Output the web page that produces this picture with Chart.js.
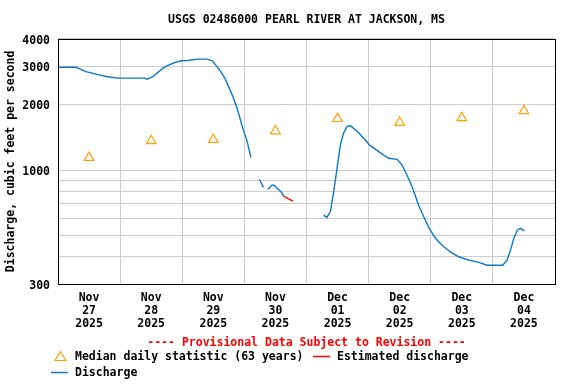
<!DOCTYPE html>
<html>
<head>
<meta charset="utf-8">
<script src="https://cdn.jsdelivr.net/npm/chart.js@4"></script>
<style>
  html, body { margin: 0; padding: 0; background: #fff; }
  #grafico { display: block; }
</style>
</head>
<body>
<canvas id="grafico" width="576" height="384"></canvas>
<script>
// hours since Nov 27 2025 00:00
const dischargeHours = [0, 7, 10.8, 14.7, 18.6, 23.2, 33.6, 34.4, 36.7, 37.5, 40.6, 42.1, 44.5, 47.6, 49.9,
  54.1, 57.6, 59.6, 61.5, 63.4, 64.6, 67.3, 69.2, 71.2, 73.1, 74.5, 75.6, 76.8, 77.3, 77.8, 79.4, 80.2,
  81.0, 82.6, 83.5, 85.2, 86.5, 87.1, 95,
  102.6, 103.9, 105.2, 106.5, 107.8, 109.1, 110.3, 111.6, 112.9, 115.5, 118.1, 120.6, 123.9, 127.7,
  131.0, 132.9, 134.8, 136.8, 139.3, 141.3, 143.2, 145.8, 148.4, 151.6, 154.8, 158.7, 162.5, 165.8,
  171.8, 173.5, 174.8, 176.1, 177.4, 178.7, 180.2];
const dischargeValues = [2960, 2960, 2830, 2754, 2685, 2640, 2640, 2610, 2685, 2734, 2934, 3006, 3093, 3170, 3180,
  3227, 3227, 3170, 2975, 2771, 2620, 2212, 1921, 1582, 1350, 1144, null, 997, null, 907, 833, null,
  815, 851, 851, 815, 787, 760, null,
  621, 606, 643, 795, 1018, 1303, 1475, 1582, 1599, 1511, 1399, 1294, 1214, 1132,
  1120, 1055, 949, 838, 691, 610, 546, 486, 452, 421, 400, 386, 377, 366,
  366, 386, 429, 486, 530, 540, 526];

const estimatedHours = [87.1, 88.9, 90.8];
const estimatedValues = [760, 740, 720];

const medianHours = [12, 36, 60, 84, 108, 132, 156, 180];
const medianValues = [1140, 1360, 1380, 1510, 1720, 1650, 1735, 1870];

const tickMonths = ['Nov', 'Nov', 'Nov', 'Nov', 'Dec', 'Dec', 'Dec', 'Dec'];
const tickDays = ['27', '28', '29', '30', '01', '02', '03', '04'];
const tickYears = ['2025', '2025', '2025', '2025', '2025', '2025', '2025', '2025'];

const yGridValues = [300, 400, 500, 600, 700, 800, 900, 1000, 2000, 3000, 4000];
const yLabelValues = [300, 1000, 2000, 3000, 4000];

const pares = (xs, ys) => xs.map((x, i) => ({x: x, y: ys[i]}));

const FONTE = '"DejaVu Sans Mono", monospace';
Chart.defaults.font.family = FONTE;
Chart.defaults.font.size = 11.5;
Chart.defaults.font.weight = 'bold';
Chart.defaults.color = '#000';

const legenda = {
    id: 'legenda',
    afterDraw(chart) {
        const c = chart.ctx;
        const a = chart.chartArea;
        c.save();
        // box round the plot
        c.strokeStyle = '#000';
        c.lineWidth = 1;
        c.strokeRect(Math.round(a.left) + 0.5, Math.round(a.top) + 0.5,
            Math.round(a.right - a.left), Math.round(a.bottom - a.top));

        c.font = 'bold 11.5px ' + FONTE;
        c.textBaseline = 'middle';
        c.textAlign = 'center';
        c.fillStyle = '#ff0000';
        c.fillText('---- Provisional Data Subject to Revision ----', (a.left + a.right) / 2, 343.5);

        c.textAlign = 'left';
        const ds = chart.data.datasets;
        // triangle
        c.strokeStyle = ds[0].pointBorderColor;
        c.lineWidth = 1.2;
        c.beginPath();
        c.moveTo(60.5, 351.5);
        c.lineTo(66, 360.5);
        c.lineTo(55, 360.5);
        c.closePath();
        c.stroke();
        c.fillStyle = '#000';
        c.fillText(ds[0].label, 75, 357);

        c.strokeStyle = ds[1].borderColor;
        c.lineWidth = 1.5;
        c.beginPath();
        c.moveTo(313, 356.5);
        c.lineTo(330, 356.5);
        c.stroke();
        c.fillText(ds[1].label, 337, 357);

        c.strokeStyle = ds[2].borderColor;
        c.beginPath();
        c.moveTo(51, 372.5);
        c.lineTo(68, 372.5);
        c.stroke();
        c.fillText(ds[2].label, 75, 373);
        c.restore();
    }
};

const ctx = document.getElementById('grafico').getContext('2d');

const grafico = new Chart(ctx, {
    type: 'line',
    data: {
        datasets: [{
            label: 'Median daily statistic (63 years)',
            data: pares(medianHours, medianValues),
            showLine: false,
            pointStyle: 'triangle',
            pointRadius: 5.6,
            pointBorderWidth: 1.2,
            pointBorderColor: '#ffa000',
            pointBackgroundColor: 'rgba(0,0,0,0)'
        }, {
            label: 'Estimated discharge',
            data: pares(estimatedHours, estimatedValues),
            borderColor: '#ff0000',
            borderWidth: 1.4,
            pointRadius: 0,
            tension: 0
        }, {
            label: 'Discharge',
            data: pares(dischargeHours, dischargeValues),
            borderColor: '#0a78cd',
            borderWidth: 1.4,
            pointRadius: 0,
            tension: 0,
            spanGaps: false
        }]
    },
    options: {
        responsive: false,
        animation: false,
        devicePixelRatio: 1,
        layout: {
            padding: {left: 0, right: 21, top: 0, bottom: 44}
        },
        plugins: {
            legend: {display: false},
            tooltip: {enabled: false},
            title: {
                display: true,
                fullSize: false,
                text: 'USGS 02486000 PEARL RIVER AT JACKSON, MS',
                color: '#000',
                font: {size: 11.5, weight: 'bold', lineHeight: 1.2},
                padding: {top: 13, bottom: 12}
            }
        },
        scales: {
            x: {
                type: 'linear',
                min: 0,
                max: 192,
                afterBuildTicks: (s) => {
                    const t = [];
                    for (let h = 0; h <= 192; h += 12) t.push({value: h});
                    s.ticks = t;
                },
                afterFit: (s) => { s.height = 56; },
                border: {display: false},
                grid: {
                    drawTicks: false,
                    color: (c) => (c.tick && c.tick.value % 24 === 0 ? '#cccccc' : 'rgba(0,0,0,0)'),
                    lineWidth: 1
                },
                ticks: {
                    autoSkip: false,
                    maxRotation: 0,
                    padding: 7,
                    font: {lineHeight: 1.16},
                    callback: (v) => {
                        if (v % 24 !== 12) return '';
                        const i = (v - 12) / 24;
                        return [tickMonths[i], tickDays[i], tickYears[i]];
                    }
                }
            },
            y: {
                type: 'logarithmic',
                min: 300,
                max: 4000,
                afterBuildTicks: (s) => { s.ticks = yGridValues.map(v => ({value: v})); },
                afterFit: (s) => { s.width = 58; },
                border: {display: false},
                grid: {drawTicks: false, color: '#cccccc', lineWidth: 1},
                ticks: {
                    autoSkip: false,
                    padding: 8,
                    labelOffset: 2,
                    callback: (v) => (yLabelValues.includes(v) ? String(v) : '')
                },
                title: {
                    display: true,
                    text: 'Discharge, cubic feet per second',
                    color: '#000',
                    font: {size: 11.5, weight: 'bold', lineHeight: 1.2},
                    padding: {top: 4, bottom: 0}
                }
            }
        }
    },
    plugins: [legenda]
});
</script>
</body>
</html>
